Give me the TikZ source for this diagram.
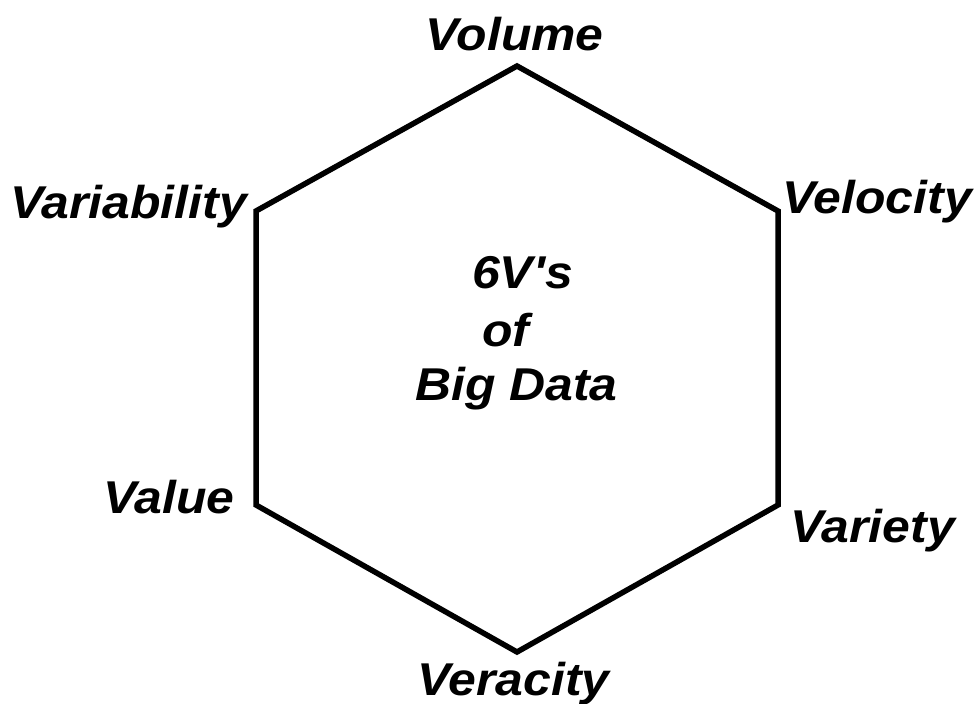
\documentclass[tikz,border=0pt]{standalone}
\usepackage{fontspec}
\setmainfont{Liberation Sans}
\newfontfamily\lblfont[FakeStretch=1.085]{Liberation Sans}
\begin{document}
\begin{tikzpicture}[x=1pt,y=-1pt,
  lbl/.style={inner sep=0pt,font=\lblfont\fontsize{46}{52}\selectfont\bfseries\itshape},
  hexline/.style={line width=5.5pt,line join=miter}]
\useasboundingbox (0,0) rectangle (975,704);
\coordinate (p1) at (517,66);
\coordinate (p2) at (778,211);
\coordinate (p3) at (778,505);
\coordinate (p4) at (517,652);
\coordinate (p5) at (256,505);
\coordinate (p6) at (256,211);
\draw[hexline] (p1) -- (p2) -- (p3) -- (p4) -- (p5) -- (p6) -- cycle;
\node[lbl,anchor=base west] (volume) at (425,50) {Volume};
\node[lbl,anchor=base west] (velocity) at (782,213) {Velocity};
\node[lbl,anchor=base west] (variety) at (790,542) {Variety};
\node[lbl,anchor=base west] (veracity) at (417,695) {Veracity};
\node[lbl,anchor=base west] (value) at (103,513) {Value};
\node[lbl,anchor=base west] (variability) at (10,218) {Variability};
\node[lbl,anchor=base west] (six) at (472,288) {6V\char"0027 s};
\node[lbl,anchor=base west] (of) at (482,346) {of};
\node[lbl,anchor=base west] (big) at (415,400) {Big Data};
\end{tikzpicture}
\end{document}
